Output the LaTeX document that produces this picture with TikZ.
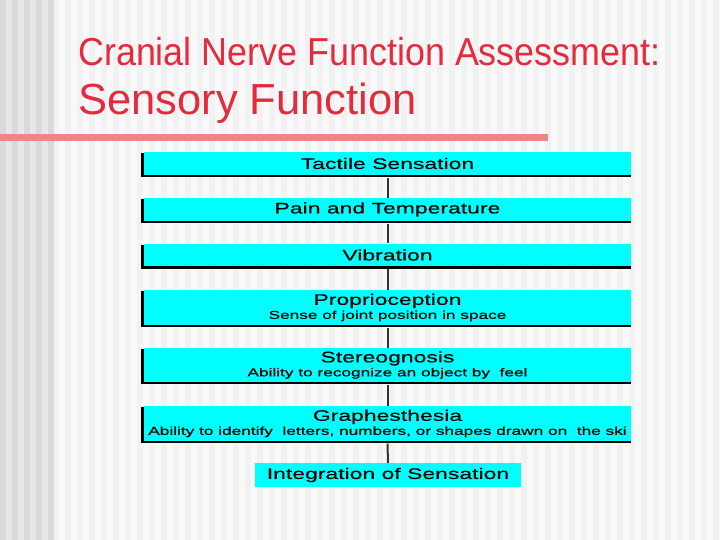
\documentclass[tikz,border=0pt]{standalone}
\usepackage{fontspec}
\usepackage{tikz}
\usetikzlibrary{positioning}
\setmainfont{Liberation Sans}
\newfontfamily\headfont[FakeStretch=0.92]{Liberation Sans}
\newfontfamily\wideface[FakeStretch=1.5,FakeBold=0.4]{Liberation Sans}
\definecolor{titlered}{HTML}{E52A3E}
\definecolor{rulered}{HTML}{F08585}
\definecolor{boxcyan}{HTML}{00FFFF}
\definecolor{stripedark}{HTML}{DADADA}
\definecolor{stripemid}{HTML}{E7E7E7}
\definecolor{stripelight}{HTML}{F2F2F2}
\definecolor{paper}{HTML}{F9F9F9}
\definecolor{wire}{HTML}{333333}
\newcommand{\labelfont}{\wideface\fontsize{15.3}{17}\selectfont}
\newcommand{\notefont}{\wideface\fontsize{11.5}{13}\selectfont}
\tikzset{
  every node/.style={font=\labelfont},
  stage/.style={fill=boxcyan,minimum width=487pt,minimum height=#1,inner sep=0pt,align=center},
  stage/.default=23pt,
  rim/.style={draw=black,line width=2.5pt},
  link/.style={draw=wire,line width=2pt},
  heading/.style={anchor=base west,inner sep=0pt,text=titlered},
}

\begin{document}
\begin{tikzpicture}[x=1pt,y=-1pt]
  % ---------- background ----------
  \fill[paper] (0,0) rectangle (720,540);
  \foreach \i in {0,...,55} \fill[stripelight] ({53+12*\i},0) rectangle ++(6,540);
  \fill[stripemid] (0,0) rectangle (53,540);
  \foreach \i in {0,...,4} \fill[stripedark] ({12*\i},0) rectangle ++(6,540);
  \useasboundingbox (0,0) rectangle (720,540);

  % ---------- heading ----------
  \node[heading,font=\headfont\fontsize{39}{42}\selectfont] (head) at (78,66)
       {Cranial Nerve Function Assessment:};
  \node[heading,font=\fontsize{43.5}{46}\selectfont] (sub) at (78,115) {Sensory Function};
  \fill[rulered] (0,134) rectangle (548,141);

  % ---------- stages ----------
  \node[stage] (tact) at (387.5,163.5) {Tactile Sensation};
  \node[stage] (pain) at (387.5,209.5) {Pain and Temperature};
  \node[stage] (vib)  at (387.5,255)   {Vibration};
  \node[stage=35pt] (prop) at (387.5,307.5)
       {Proprioception\\[-3pt]{\notefont Sense of joint position in space}};
  \node[stage=34pt] (ster) at (387.5,365)
       {Stereognosis\\[-3pt]{\notefont Ability to recognize an object by\ \ feel}};
  \node[stage=35pt] (graph) at (387.5,423.5)
       {Graphesthesia\\[-3pt]{\notefont Ability to identify\ \ letters, numbers, or shapes drawn on\ \ the ski}};
  \node[stage,minimum width=266pt,minimum height=24pt] (integ) at (388,475) {Integration of Sensation};

  \foreach \n in {tact,pain,vib,prop,ster,graph}
    \draw[rim] ([shift={(-1.5,1.5)}]\n.north west) |- ([yshift=-1pt]\n.south east);

  \foreach \a/\b in {tact/pain,pain/vib,vib/prop,prop/ster,ster/graph,graph/integ}
    \draw[link] ([yshift=-2.5pt]\a.south) -- (\b.north);
\end{tikzpicture}
\end{document}
